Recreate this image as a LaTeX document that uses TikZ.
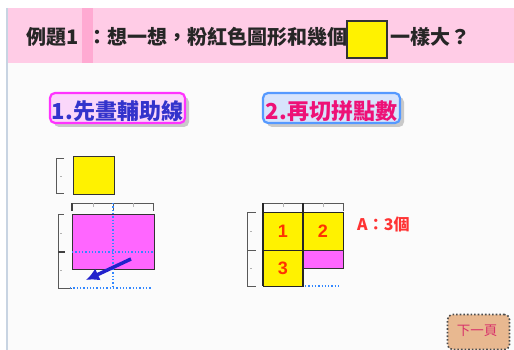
\documentclass[tikz,border=0pt]{standalone}
\usepackage{fontspec}
\newfontfamily\cjk{Noto Sans CJK TC}
\newfontfamily\arialf{Liberation Sans}
\usetikzlibrary{shadows,arrows.meta}
\definecolor{hdr}{RGB}{255,204,230}
\definecolor{hdrdark}{RGB}{255,170,210}
\definecolor{bgc}{RGB}{251,251,251}
\definecolor{leftln}{RGB}{200,212,226}
\definecolor{pinkfill}{RGB}{255,102,255}
\definecolor{dotblue}{RGB}{51,136,255}
\definecolor{arrowblue}{RGB}{34,34,204}
\definecolor{numred}{RGB}{255,51,0}
\definecolor{ared}{RGB}{255,51,51}
\definecolor{tanc}{RGB}{232,184,144}
\definecolor{btnmag}{RGB}{255,51,255}
\definecolor{btnmagl}{RGB}{250,215,250}
\definecolor{btnblue}{RGB}{85,153,255}
\definecolor{btnbluel}{RGB}{215,228,252}
\definecolor{txtblue}{RGB}{51,51,204}
\definecolor{txtmag}{RGB}{238,17,119}
\definecolor{nextred}{RGB}{216,51,106}
\pgfdeclarehorizontalshading{magshade}{100bp}{color(0bp)=(btnmag); color(22bp)=(btnmagl); color(78bp)=(btnmagl); color(100bp)=(btnmag)}
\pgfdeclarehorizontalshading{blueshade}{100bp}{color(0bp)=(btnblue); color(22bp)=(btnbluel); color(78bp)=(btnbluel); color(100bp)=(btnblue)}
\tikzset{
  hd/.style={font=\cjk\bfseries\fontsize{20}{20}\selectfont, inner sep=0pt, text=black!85, anchor=west},
  btnbox/.style={rounded corners=5pt, minimum width=135pt, minimum height=30pt, inner sep=0pt, line width=2.2pt,
     drop shadow={shadow xshift=4pt, shadow yshift=-4pt, fill=black!40, opacity=0.5}},
  btntxt/.style={font=\cjk\bfseries\fontsize{22}{22}\selectfont, inner sep=0pt},
  rul/.style={draw=black!65, line width=0.8pt},
  rulthick/.style={draw=black!75, line width=1.6pt},
  rulminor/.style={draw=black!30, line width=0.5pt},
  dotb/.style={draw=dotblue, line width=1.3pt, dotted},
  cellbox/.style={draw=black!85, line width=1pt, fill=yellow, inner sep=0pt,
     font=\arialf\bfseries\fontsize{18}{18}\selectfont, text=numred},
  pinkbox/.style={draw=black!80, line width=1pt, fill=pinkfill, inner sep=0pt},
}
\begin{document}
\begin{tikzpicture}[x=1pt,y=-1pt]
\useasboundingbox (0,0) rectangle (514,350);
\fill[white] (0,0) rectangle (514,350);
\fill[bgc] (7,8) rectangle (514,350);
\fill[hdr] (7,8) rectangle (514,63);
\fill[hdrdark] (82,8) rectangle (93,63);
\draw[leftln, line width=1.5pt] (7,8) -- (7,350);

% header
\node[hd] (t1) at (26,37) {例題1};
\node[hd] (t2) at (87,37) {：想一想，粉紅色圖形和幾個};
\node[draw=black!80, line width=1.2pt, fill=yellow, minimum width=40pt, minimum height=37pt, inner sep=0pt] (ybox) at (367,39.5) {};
\node[hd] (t3) at (390,37) {一樣大？};

% buttons
\node[btnbox, draw=btnmag, shading=magshade] (b1) at (117.5,108) {};
\node[btntxt, text=txtblue] (b1t) at (117.5,111) {1.先畫輔助線};
\node[btnbox, minimum width=137pt, draw=btnblue, shading=blueshade] (b2) at (331.5,108) {};
\node[btntxt, text=txtmag] (b2t) at (331.5,111) {2.再切拼點數};

% left figure: small square with bracket
\draw[rul] (64,158) -- (56,158) -- (56,193) -- (64,193);
\draw[rulminor] (60,176) -- (61.5,176);
\node[draw=black!80, line width=1pt, fill=yellow, minimum width=41pt, minimum height=37pt, inner sep=0pt] (ys) at (93.5,175.5) {};

% left rulers
\draw[rul] (72,203) -- (153,203);
\draw[rulthick] (72,203) -- (72,211);
\draw[rul] (113,203) -- (113,211);
\draw[rul] (153,203) -- (153,211);
\draw[rulminor] (93,203) -- (93,207) (133,203) -- (133,207);
\draw[rul] (58,214) -- (58,288);
\draw[rul] (58,214) -- (64,214);
\draw[rulthick] (58,252) -- (65,252);
\draw[rul] (58,288) -- (72,288);
\draw[rulminor] (60,233) -- (62,233) (60,270) -- (62,270);

% pink rectangle
\node[pinkbox, minimum width=82pt, minimum height=55pt] (pk) at (113,241.5) {};
\draw[dotb] (113,203) -- (113,288);
\draw[dotb] (72,252) -- (154,252);
\draw[dotb] (70,288) -- (152,288);
\coordinate (a1) at (131,259);
\coordinate (a2) at (86,280);
\draw[arrowblue, line width=3.5pt, -{Latex[length=13pt,width=13pt]}] (a1) -- (a2);

% right figure rulers
\draw[rul] (263,203) -- (343,203);
\draw[rul] (343,203) -- (343,211);
\draw[rulminor] (283,203) -- (283,207) (323,203) -- (323,207);
\draw[rul] (247,212) -- (247,286);
\draw[rul] (247,212) -- (256,212) (247,250) -- (256,250) (247,286) -- (256,286);
\draw[rulminor] (250,231) -- (252,231) (250,268) -- (252,268);

% cells
\node[cellbox, minimum width=40pt, minimum height=38pt] (c1) at (283,231) {1};
\node[cellbox, minimum width=40pt, minimum height=38pt] (c2) at (323,231) {2};
\node[cellbox, minimum width=40pt, minimum height=36pt] (c3) at (283,268) {3};
\node[pinkbox, minimum width=40pt, minimum height=18pt] (pk2) at (323,259) {};
\draw[rulthick, draw=black!85, line width=2pt] (263,203) -- (263,286);
\draw[rulthick, draw=black!85] (303,203) -- (303,286);
\draw[dotb] (305,286) -- (340,286);

\node[font=\cjk\bfseries\fontsize{16}{16}\selectfont, text=ared, anchor=west, inner sep=0pt] (ans) at (357,224) {A：3個};

% next button
\node[draw=black!70, dotted, line width=1.6pt, fill=tanc, rounded corners=5pt, minimum width=62pt, minimum height=35pt, inner sep=0pt] (nx) at (478.5,332) {};
\node[font=\cjk\fontsize{13.5}{13.5}\selectfont, text=nextred, inner sep=0pt] (nxt) at (477,331) {下一頁};
\end{tikzpicture}
\end{document}
